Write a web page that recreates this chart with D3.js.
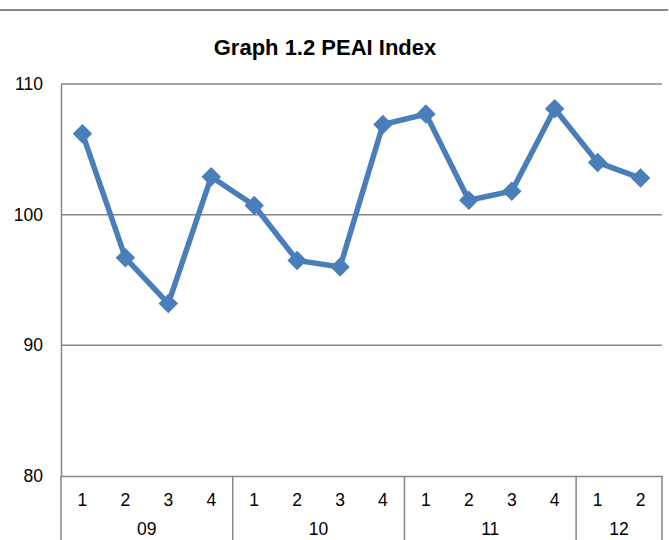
<!DOCTYPE html>
<html><head><meta charset="utf-8">
<script src="https://cdn.jsdelivr.net/npm/d3@7"></script>
<style>body{margin:0;background:#fff}svg{display:block;font-family:"Liberation Sans",Arial,sans-serif}</style>
</head><body><svg id="c" width="669" height="540"></svg>
<script>
const years = ["09","10","11","12"];
const quarters = ["1","2","3","4","1","2","3","4","1","2","3","4","1","2"];
const quarterYear = ["09","09","09","09","10","10","10","10","11","11","11","11","12","12"];
const values = [106.2, 96.7, 93.2, 102.9, 100.7, 96.5, 96.0, 106.9, 107.7, 101.1, 101.8, 108.1, 104.0, 102.8];
const yTicks = [80, 90, 100, 110];
const title = "Graph 1.2 PEAI Index";

const svg = d3.select("#c");
const L = 61, R = 662, T = 84, B = 476;
const idx = d3.range(values.length);
const x = d3.scaleBand().domain(idx).range([L, R]).padding(0);
const y = d3.scaleLinear().domain([80, 110]).range([B, T]);
const grey = "#868686";
const FS = 17.5;

svg.append("line").attr("x1",0).attr("x2",668).attr("y1",10).attr("y2",10)
  .attr("stroke",grey).attr("stroke-width",2);

svg.append("text").attr("x",325).attr("y",55).attr("text-anchor","middle")
  .attr("font-size",22).attr("font-weight","bold").attr("fill","#000").text(title);

// gridlines
svg.append("g").selectAll("line").data(yTicks.filter(d=>d>80)).join("line")
  .attr("x1",L).attr("x2",R).attr("y1",d=>y(d)).attr("y2",d=>y(d))
  .attr("stroke",grey).attr("stroke-width",1.5);

// y axis
const ya = svg.append("g").attr("transform",`translate(${L},0)`)
  .call(d3.axisLeft(y).tickValues(yTicks).tickSize(0).tickPadding(18));
ya.select(".domain").attr("stroke",grey).attr("stroke-width",1.5);
ya.selectAll("text").attr("font-size",FS).attr("fill","#000")
  .attr("font-family","'Liberation Sans',Arial,sans-serif");

// x axis
const xa = svg.append("g").attr("transform",`translate(0,${B})`)
  .call(d3.axisBottom(x).tickSize(0).tickPadding(0).tickFormat(i=>quarters[i]));
xa.select(".domain").attr("stroke",grey).attr("stroke-width",1.5);
xa.selectAll("text").attr("font-size",FS).attr("fill","#000").attr("dy",null)
  .attr("y",30).attr("font-family","'Liberation Sans',Arial,sans-serif");

// year groups
const groups = years.map(yr => {
  const ii = idx.filter(i=>quarterYear[i]===yr);
  return {yr, x0: x(ii[0]), x1: x(ii[ii.length-1]) + x.bandwidth()};
});
const seps = [...groups.map(g=>g.x0), R];
svg.append("g").selectAll("line").data(seps).join("line")
  .attr("x1",d=>d).attr("x2",d=>d).attr("y1",B).attr("y2",540)
  .attr("stroke",grey).attr("stroke-width",1.5);
svg.append("g").selectAll("text").data(groups).join("text")
  .attr("x",g=>(g.x0+g.x1)/2).attr("y",535).attr("text-anchor","middle")
  .attr("font-size",FS).attr("fill","#000").text(g=>g.yr);

// line
const cx = i => x(i) + x.bandwidth()/2;
svg.append("path").datum(values)
  .attr("d", d3.line().x((d,i)=>cx(i)).y(d=>y(d)))
  .attr("fill","none").attr("stroke","#4a7ebb").attr("stroke-width",5.5)
  .attr("stroke-linejoin","round");
svg.append("g").selectAll("path").data(values).join("path")
  .attr("d", d3.symbol(d3.symbolSquare, 190)())
  .attr("transform",(d,i)=>`translate(${cx(i)},${y(d)}) rotate(45)`)
  .attr("fill","#4a7ebb");
</script></body></html>
